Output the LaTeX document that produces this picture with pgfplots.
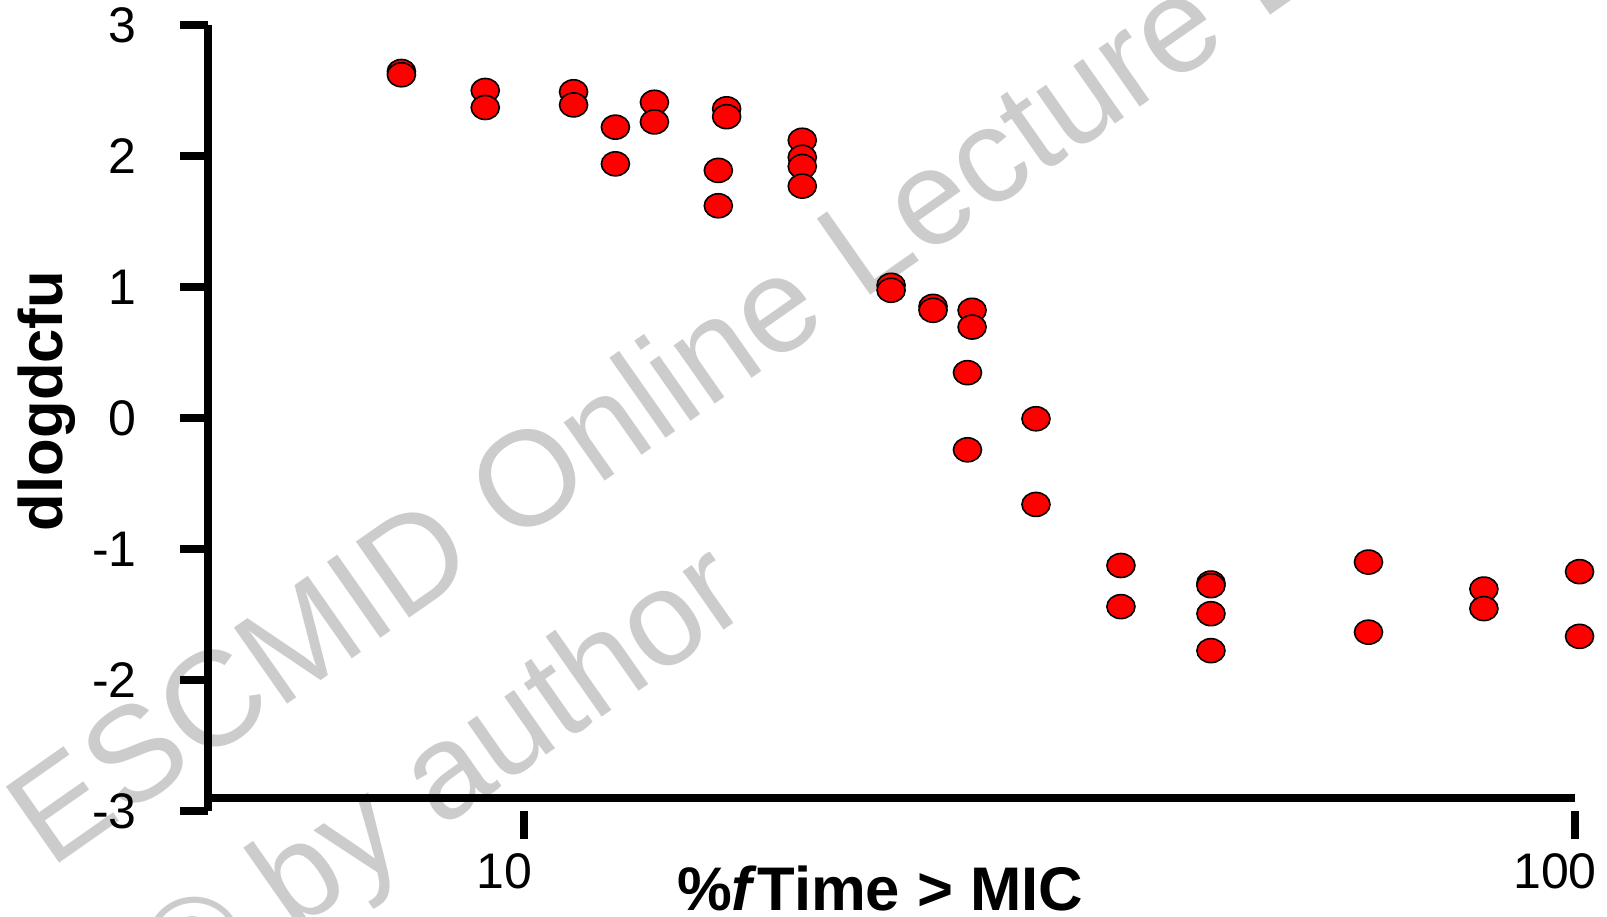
\documentclass[border=0pt]{standalone}
\usepackage{fontspec}
\setmainfont{Liberation Sans}
\usepackage{pgfplots}
\pgfplotsset{compat=1.18}
\definecolor{wm}{HTML}{CCCCCC}
\pgfplotstableread{
x y
7.64 2.645
7.64 2.62
9.18 2.50
9.18 2.37
11.14 2.49
11.14 2.39
12.21 2.22
12.21 1.94
13.30 2.41
13.30 2.26
15.58 2.36
15.58 2.30
15.30 1.89
15.30 1.62
18.39 2.12
18.39 1.99
18.39 1.92
18.39 1.77
22.34 1.013
22.34 0.975
24.49 0.852
24.49 0.822
26.68 0.822
26.68 0.694
26.41 0.346
26.41 -0.243
30.69 -0.006
30.69 -0.66
36.97 -1.126
36.97 -1.44
45.03 -1.26
45.03 -1.28
45.03 -1.494
45.03 -1.776
63.6 -1.10
63.6 -1.635
81.9 -1.306
81.9 -1.455
101 -1.173
101 -1.667
}\datatable
\begin{document}
\begin{tikzpicture}
\useasboundingbox (-52pt,-26.5pt) rectangle (349.75pt,202.75pt);
\node[rotate=35, anchor=base west, inner sep=0pt, text=wm, font=\fontsize{33.75}{40}\selectfont] at (-39.5pt,-14.75pt) {ESCMID Online Lecture Library};
\node[rotate=35, anchor=base west, inner sep=0pt, text=wm, font=\fontsize{33.75}{40}\selectfont] at (-7pt,-50.25pt) {© by author};
\begin{axis}[
  width=341.75pt, height=196.5pt, scale only axis,
  xmode=log, xmin=5, xmax=100, ymin=-3, ymax=3,
  axis lines*=left,
  axis line style={line width=2pt},
  x axis line style={draw=none},
  xtick={10,100}, xticklabels={10,100},
  ytick={-3,-2,-1,0,1,2,3}, yticklabels={-3,-2,-1,0,1,2,3},
  minor tick style={draw=none},
  tick align=outside, major tick length=7pt,
  major tick style={line width=2pt, black},
  ticklabel style={font=\fontsize{12.5}{15}\selectfont},
  yticklabel style={xshift=-7.3pt},
  xticklabel style={xshift=-5pt},
  xlabel={\textbf{\%\textit{f}Time > MIC}},
  xlabel style={font=\fontsize{15.4}{18}\selectfont, at={(axis description cs:0.4917,-0.126)}, anchor=base},
  ylabel={\textbf{dlogdcfu}},
  ylabel style={font=\fontsize{15.4}{18}\selectfont, at={(axis description cs:-0.1068,0.5216)}, anchor=base},
  clip=false,
]
\draw[line width=2pt] (axis cs:5,-2.9) -- (axis cs:100,-2.9);
\addplot[only marks, mark=*, mark size=3pt, mark options={xscale=1.17, fill=red, draw=black, line width=0.4pt}] table[x=x, y=y] {\datatable};
\end{axis}
\end{tikzpicture}
\end{document}
